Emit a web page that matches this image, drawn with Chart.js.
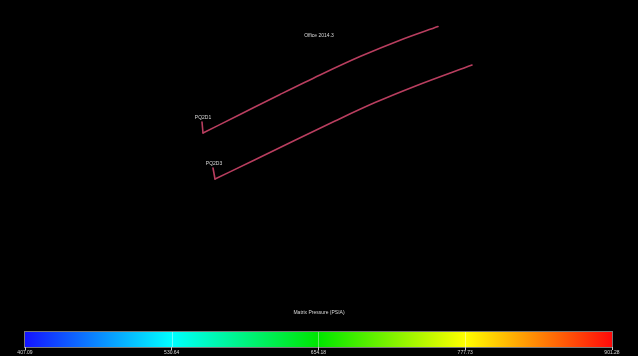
<!DOCTYPE html>
<html>
<head>
<meta charset="utf-8">
<script src="https://cdn.jsdelivr.net/npm/chart.js@4/dist/chart.umd.min.js"></script>
<style>
  html,body{margin:0;padding:0;background:#000;}
  #wrap{position:relative;width:638px;height:356px;background:#000;overflow:hidden;}
  #main{position:absolute;left:0;top:0;}
  #bar{position:absolute;left:0;top:300px;}
</style>
</head>
<body>
<div id="wrap">
  <canvas id="main" width="638" height="356"></canvas>
  <canvas id="bar" width="638" height="56"></canvas>
</div>
<script>
// ---- data ----
const chartTitle = "Office 2014.3";
const colorbarTitle = "Matrix Pressure (PSIA)";
const wellNames = ["PQ2D1", "PQ2D3"];
// well heads (short vertical stub at the start of each well)
const well1StubX = [202, 203];
const well1StubY = [122, 133];
const well2StubX = [213, 215];
const well2StubY = [168, 179];
// well 1 trajectory (x, y in plot units)
const well1X = [203, 240, 280, 320, 360, 400, 438];
const well1Y = [133, 114.5, 94.5, 75, 56.6, 40.2, 26.5];
// well 2 trajectory
const well2X = [215, 255, 295, 335, 375, 415, 472];
const well2Y = [179, 159.8, 140.2, 121, 102.6, 86.2, 65];
// colour bar
const pressureMin = 407.09;
const pressureMax = 901.28;
const pressureTicks = [407.09, 530.64, 654.18, 777.73, 901.28];
const jetStops = [
  [0.00, "rgb(20,20,255)"],
  [0.25, "rgb(0,255,255)"],
  [0.50, "rgb(0,230,0)"],
  [0.75, "rgb(255,255,0)"],
  [1.00, "rgb(255,10,10)"]
];

const FONT = "'Liberation Sans', 'DejaVu Sans', sans-serif";
const TEXT = "#d8d8d8";
const WELL_COLOR = "rgb(185,62,95)";

const toPts = (xs, ys) => xs.map((x, i) => ({x, y: ys[i]}));

// plugin: title + well labels
const labelPlugin = {
  id: 'labels',
  afterDatasetsDraw(chart) {
    const ctx = chart.ctx;
    const xs = chart.scales.x, ys = chart.scales.y;
    ctx.save();
    ctx.fillStyle = TEXT;
    ctx.font = "5px " + FONT;
    ctx.textAlign = 'center';
    ctx.textBaseline = 'middle';
    ctx.fillText(chartTitle, chart.width / 2, 36);
    chart.data.datasets.forEach((ds) => {
      if (!ds.wellLabel) return;
      const p = ds.data[0];
      ctx.fillText(ds.wellLabel, xs.getPixelForValue(p.x) + 1, ys.getPixelForValue(p.y) - 4);
    });
    ctx.restore();
  }
};

const lineStyle = {
  showLine: true, borderColor: WELL_COLOR, borderWidth: 1.6,
  pointRadius: 0, fill: false, borderJoinStyle: 'round', borderCapStyle: 'round'
};

new Chart(document.getElementById('main'), {
  type: 'scatter',
  data: {
    datasets: [
      Object.assign({label: wellNames[0], wellLabel: wellNames[0], data: toPts(well1StubX, well1StubY), tension: 0}, lineStyle),
      Object.assign({label: wellNames[0], data: toPts(well1X, well1Y), cubicInterpolationMode: 'monotone'}, lineStyle),
      Object.assign({label: wellNames[1], wellLabel: wellNames[1], data: toPts(well2StubX, well2StubY), tension: 0}, lineStyle),
      Object.assign({label: wellNames[1], data: toPts(well2X, well2Y), cubicInterpolationMode: 'monotone'}, lineStyle)
    ]
  },
  options: {
    responsive: false, animation: false,
    layout: {padding: 0},
    plugins: {legend: {display: false}, tooltip: {enabled: false}, title: {display: false}},
    scales: {
      x: {type: 'linear', display: false, min: 0, max: 638},
      y: {type: 'linear', display: false, min: 0, max: 356, reverse: true}
    }
  },
  plugins: [labelPlugin]
});

// colour bar chart
const cbTitlePlugin = {
  id: 'cbtitle',
  afterDraw(chart) {
    const ctx = chart.ctx;
    const xs = chart.scales.x;
    const a = chart.chartArea;
    ctx.save();
    ctx.fillStyle = TEXT;
    ctx.font = "5px " + FONT;
    ctx.textAlign = 'center';
    ctx.textBaseline = 'middle';
    ctx.fillText(colorbarTitle, chart.width / 2, 13);
    ctx.strokeStyle = "rgba(255,255,255,0.4)";
    ctx.lineWidth = 1;
    pressureTicks.slice(1, -1).forEach(v => {
      const px = Math.round(xs.getPixelForValue(v)) + 0.5;
      ctx.beginPath(); ctx.moveTo(px, a.top); ctx.lineTo(px, a.bottom); ctx.stroke();
    });
    ctx.strokeStyle = "rgba(200,200,200,0.6)";
    ctx.strokeRect(a.left - 0.5, a.top - 0.5, a.right - a.left + 1, a.bottom - a.top + 1);
    ctx.restore();
  }
};

new Chart(document.getElementById('bar'), {
  type: 'bar',
  data: {
    labels: [colorbarTitle],
    datasets: [{
      data: [[pressureMin, pressureMax]],
      borderWidth: 0,
      borderSkipped: false,
      barPercentage: 1, categoryPercentage: 1,
      backgroundColor(ctx) {
        const area = ctx.chart.chartArea;
        if (!area) return 'blue';
        const g = ctx.chart.ctx.createLinearGradient(area.left, 0, area.right, 0);
        jetStops.forEach(s => g.addColorStop(s[0], s[1]));
        return g;
      }
    }]
  },
  options: {
    indexAxis: 'y',
    responsive: false, animation: false,
    layout: {padding: {left: 25, right: 26, top: 32, bottom: 0}},
    plugins: {legend: {display: false}, tooltip: {enabled: false}},
    scales: {
      x: {
        type: 'linear', min: pressureMin, max: pressureMax,
        afterBuildTicks(s) { s.ticks = pressureTicks.map(v => ({value: v})); },
        afterFit(s) { s.height = 9; },
        border: {display: false},
        grid: {color: 'rgba(255,255,255,0.8)', lineWidth: 1, tickLength: 3, drawOnChartArea: false},
        ticks: {
          color: TEXT, font: {size: 5, family: FONT}, padding: 0, maxRotation: 0, autoSkip: false,
          callback: (v) => Number(v).toFixed(2)
        }
      },
      y: {display: false}
    }
  },
  plugins: [cbTitlePlugin]
});
</script>
</body>
</html>
